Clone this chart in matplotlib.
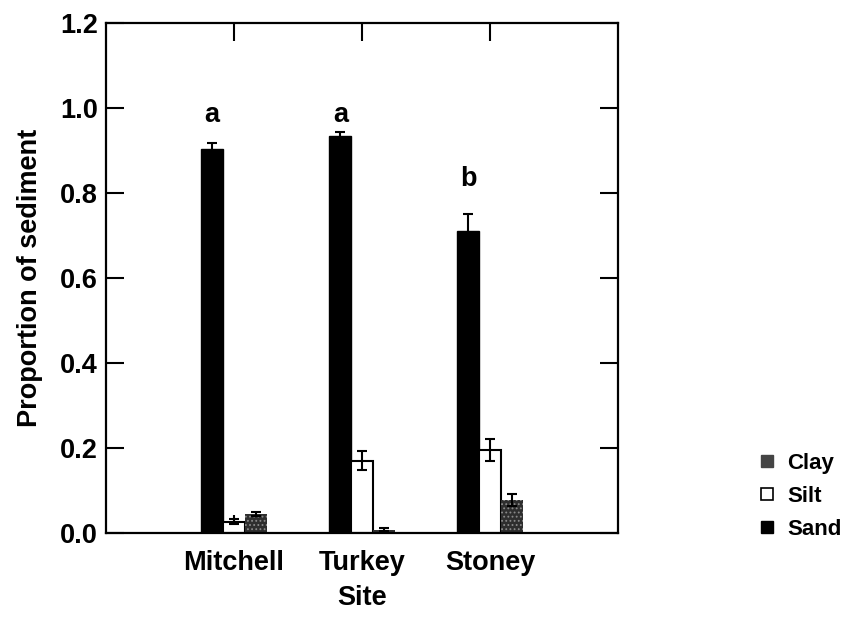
import matplotlib
matplotlib.use("Agg")
import matplotlib.pyplot as plt
from matplotlib.lines import Line2D
import numpy as np

plt.rcParams['font.family'] = ['Liberation Sans', 'DejaVu Sans']
plt.rcParams['font.weight'] = 'bold'
plt.rcParams['hatch.linewidth'] = 0.8

sites = ["Mitchell", "Turkey", "Stoney"]
sand = [0.905, 0.934, 0.710]
sand_se = [0.012, 0.010, 0.042]
silt = [0.027, 0.170, 0.195]
silt_se = [0.006, 0.022, 0.026]
clay = [0.045, 0.008, 0.078]
clay_se = [0.005, 0.003, 0.015]
letters = ["a", "a", "b"]
letter_y = [0.968, 0.968, 0.818]
y_ticks = [0.0, 0.2, 0.4, 0.6, 0.8, 1.0, 1.2]

FS = 19.5

fig = plt.figure(figsize=(8.48, 6.19), dpi=100)
ax = fig.add_axes([0.125, 0.1389, 0.6038, 0.8235])

x = np.arange(1, len(sites) + 1)
w = 0.17
err_kw = dict(ecolor="black", elinewidth=1.5, capsize=3.5, capthick=1.5)

ax.bar(x - w, sand, w, yerr=sand_se, color="black", edgecolor="black",
       linewidth=1.0, error_kw=err_kw, zorder=2)
ax.bar(x, silt, w, yerr=silt_se, color="white", edgecolor="black",
       linewidth=1.5, error_kw=err_kw, zorder=2)
ax.bar(x + w, clay, w, yerr=clay_se, color="#2e2e2e", edgecolor="#8a8a8a",
       hatch="....", linewidth=0, error_kw=err_kw, zorder=2)

for xi, lab, ly in zip(x - w, letters, letter_y):
    ax.text(xi, ly, lab, ha="center", va="baseline", fontsize=FS,
            fontweight="bold")

ax.set_xlim(0, 4)
ax.set_ylim(0, 1.2)
ax.set_xticks(x)
ax.set_xticklabels(sites)
ax.set_yticks(y_ticks)
ax.set_yticklabels([f"{v:.1f}" for v in y_ticks])
ax.tick_params(axis="both", direction="in", length=13, width=1.5,
               labelsize=FS, top=True, right=True)
ax.tick_params(axis="y", pad=6)
ax.tick_params(axis="x", pad=12)
for s in ax.spines.values():
    s.set_linewidth(1.6)

ax.set_xlabel("Site", fontsize=FS, fontweight="bold", labelpad=7)
ax.set_ylabel("Proportion of sediment", fontsize=FS, fontweight="bold",
              labelpad=12)

handles = [
    Line2D([], [], marker="s", linestyle="none", markersize=9,
           markerfacecolor="#444444", markeredgecolor="#444444"),
    Line2D([], [], marker="s", linestyle="none", markersize=9,
           markerfacecolor="white", markeredgecolor="black",
           markeredgewidth=1.2),
    Line2D([], [], marker="s", linestyle="none", markersize=9,
           markerfacecolor="black", markeredgecolor="black"),
]
fig.legend(handles, ["Clay", "Silt", "Sand"], loc="center left",
           bbox_to_anchor=(0.897, 0.198), frameon=False, fontsize=16,
           handlelength=0.6, handletextpad=0.6, labelspacing=0.55,
           borderaxespad=0, borderpad=0)

fig.savefig("out.png", dpi=100)
